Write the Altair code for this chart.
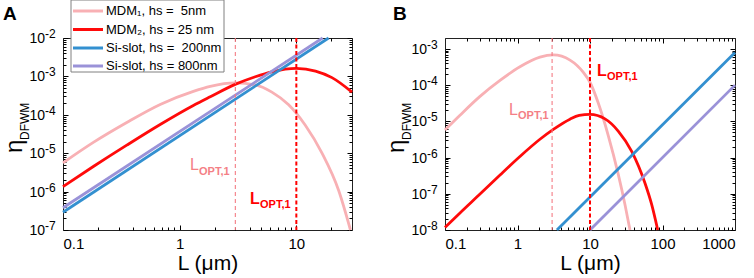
import altair as alt
import pandas as pd

FONT = "Liberation Sans"

# ---------------- series / legend ----------------
SERIES = ["MDM\u2081, hs = \u00a05nm", "MDM\u2082, hs = 25 nm",
          "Si-slot, hs = \u00a0200nm", "Si-slot, hs = 800nm"]
COLORS = ["#F8B0B4", "#FF0A0A", "#3390D0", "#9A92D8"]

# ---------------- panel A data ----------------
A_mdm1_L = [0.1, 0.182, 0.352, 0.681, 1.31, 1.83, 2.99, 4.45, 6.17, 8.59, 11.9, 16.6, 23.1, 29.1]
A_mdm1_eta = [5.6e-6, 1.91e-5, 6.3e-5, 1.86e-4, 4.07e-4, 5.5e-4, 6.76e-4, 6.03e-4, 3.89e-4, 1.82e-4, 5.4e-5, 1.0e-5, 1.05e-6, 1.0e-7]
A_mdm2_L = [0.1, 0.182, 0.352, 0.681, 1.31, 1.83, 2.99, 4.45, 6.17, 10.0, 14.6, 20.2, 30.0]
A_mdm2_eta = [1.35e-6, 4.5e-6, 1.62e-5, 5.6e-5, 1.75e-4, 2.95e-4, 6.2e-4, 9.8e-4, 1.32e-3, 1.62e-3, 1.38e-3, 9.3e-4, 3.9e-4]
A_slot200_L = [0.1, 18.9]
A_slot200_eta = [2.9e-7, 1.0e-2]
A_slot800_L = [0.1, 16.8]
A_slot800_eta = [3.8e-7, 1.0e-2]

# ---------------- panel B data ----------------
B_mdm1_L = [0.1, 0.161, 0.304, 0.574, 1.08, 2.04, 3.12, 5.3, 8.1, 10.0, 13.0, 17.9, 24.5, 30.4, 35.6]
B_mdm1_eta = [5.8e-6, 1.48e-5, 4.9e-5, 1.35e-4, 3.2e-4, 5.9e-4, 6.8e-4, 4.9e-4, 2.24e-4, 1.2e-4, 3.2e-5, 4.0e-6, 3.5e-7, 5.0e-8, 1.0e-8]
B_mdm2_L = [0.1, 0.161, 0.304, 0.574, 1.08, 2.04, 3.12, 5.3, 7.1, 10.0, 16.1, 24.5, 37.6, 57.4, 71.0, 86.0]
B_mdm2_eta = [1.17e-8, 2.95e-8, 9.8e-8, 3.3e-7, 1.07e-6, 3.2e-6, 6.0e-6, 1.15e-5, 1.45e-5, 1.55e-5, 1.17e-5, 5.4e-6, 1.48e-6, 1.95e-7, 5.0e-8, 1.0e-8]
B_slot200_L = [3.5, 1000.0]
B_slot200_eta = [1.0e-8, 8.0e-4]
B_slot800_L = [10.0, 1000.0]
B_slot800_eta = [1.0e-8, 1.0e-4]

# optimum lengths (dashed markers): MDM1, MDM2
L_OPT = [3.0, 10.0]

# ---------------- ticks ----------------
A_x_major = [0.1, 1, 10]
A_x_minor = [0.2, 0.3, 0.4, 0.5, 0.6, 0.7, 0.8, 0.9, 2, 3, 4, 5, 6, 7, 8, 9, 20]
A_y_major = [1e-7, 1e-6, 1e-5, 1e-4, 1e-3, 1e-2]
A_y_sup = ["-7", "-6", "-5", "-4", "-3", "-2"]
A_y_minor = [k * 10.0 ** e for e in range(-7, -2) for k in range(2, 10)]

B_x_major = [0.1, 1, 10, 100, 1000]
B_x_minor = [k * 10.0 ** e for e in range(-1, 3) for k in range(2, 10)]
B_y_major = [1e-8, 1e-7, 1e-6, 1e-5, 1e-4, 1e-3]
B_y_sup = ["-8", "-7", "-6", "-5", "-4", "-3"]
B_y_minor = [k * 10.0 ** e for e in range(-8, -3) for k in range(2, 10)]

# ---------------- layout (pixels, relative to panel A plot origin) ----------------
W_TOTAL, H = 672, 192
XA_RANGE = [0, 289]
XB_RANGE = [382, 672]
PINK_TXT = "#F47F86"
RED_TXT = "#FF0000"


def long_df(parts):
    rows = []
    for name, Ls, etas in parts:
        for i, (l, e) in enumerate(zip(Ls, etas)):
            rows.append({"series": name, "L": l, "eta": e, "i": i})
    return pd.DataFrame(rows)


dfA = long_df([(SERIES[0], A_mdm1_L, A_mdm1_eta), (SERIES[1], A_mdm2_L, A_mdm2_eta),
               (SERIES[2], A_slot200_L, A_slot200_eta), (SERIES[3], A_slot800_L, A_slot800_eta)])
dfB = long_df([(SERIES[0], B_mdm1_L, B_mdm1_eta), (SERIES[1], B_mdm2_L, B_mdm2_eta),
               (SERIES[2], B_slot200_L, B_slot200_eta), (SERIES[3], B_slot800_L, B_slot800_eta)])

one = pd.DataFrame({"k": [0]})
color_scale = alt.Scale(domain=SERIES, range=COLORS)


def tick_layer(df, xs, ys, xvals, yvals, xorient, yorient, yoff, size, frame):
    common = dict(labels=False, tickSize=size, grid=False, title=None,
                  tickColor="black", tickWidth=1, domain=frame,
                  domainColor="#222222", domainWidth=1)
    return alt.Chart(df).mark_point(opacity=0, size=1).encode(
        x=alt.X("L:Q", scale=xs, axis=alt.Axis(orient=xorient, offset=-H, values=xvals, **common)),
        y=alt.Y("eta:Q", scale=ys, axis=alt.Axis(orient=yorient, offset=yoff, values=yvals, **common)),
    )


def text(x, y, s, size, color="black", weight="normal", align="left", angle=0, baseline="alphabetic"):
    kw = dict(align=align, baseline=baseline, fontSize=size, fontWeight=weight, font=FONT, color=color)
    if angle:
        kw["angle"] = angle
    return alt.Chart(one).mark_text(**kw).encode(
        x=alt.value(x), y=alt.value(y), text=alt.value(s))


def panel(df, xs, ys, xmaj, xmin, ymaj, ymin, ysup, x0, left_off, right_off, letter, labels):
    lines = alt.Chart(df).mark_line(strokeWidth=2.8, interpolate="monotone").encode(
        x=alt.X("L:Q", scale=xs, axis=alt.Axis(
            orient="bottom", values=xmaj, format="~g", ticks=False, tickSize=0,
            domain=False, grid=False, labelFontSize=15, labelFont=FONT,
            labelColor="black", labelPadding=6,
            title="L (\u03bcm)", titleFont=FONT, titleFontSize=21, titleFontWeight="normal",
            titleColor="black", titleBaseline="alphabetic", titleY=39)),
        y=alt.Y("eta:Q", scale=ys, axis=None),
        color=alt.Color("series:N", sort=SERIES, scale=color_scale, legend=None),
        order="i:Q",
    )
    ticks = [
        tick_layer(df, xs, ys, xmaj, ymaj, "top", "right", left_off, 5, True),
        tick_layer(df, xs, ys, xmin, ymin, "top", "right", left_off, 3, False),
        tick_layer(df, xs, ys, xmaj, ymaj, "bottom", "left", right_off, 5, True),
        tick_layer(df, xs, ys, xmin, ymin, "bottom", "left", right_off, 3, False),
    ]
    opt = pd.DataFrame({"L": L_OPT})
    r1 = alt.Chart(opt.iloc[[0]]).mark_rule(
        color="#F47C84", strokeWidth=1.1, strokeDash=[4, 3]).encode(
        x=alt.X("L:Q", scale=xs, axis=None))
    r2 = alt.Chart(opt.iloc[[1]]).mark_rule(
        color="#FF0000", strokeWidth=2, strokeDash=[4, 2.5]).encode(
        x=alt.X("L:Q", scale=xs, axis=None))

    ylab = pd.DataFrame({"v": ymaj, "sup": ysup})
    ybase = alt.Chart(ylab).mark_text(align="right", baseline="middle", fontSize=14,
                                      font=FONT, color="black", dy=1).encode(
        x=alt.value(x0 - 18), y=alt.Y("v:Q", scale=ys, axis=None), text=alt.value("10"))
    ysupl = alt.Chart(ylab).mark_text(align="left", baseline="middle", fontSize=12,
                                      font=FONT, color="black", dy=-4).encode(
        x=alt.value(x0 - 18), y=alt.Y("v:Q", scale=ys, axis=None), text="sup:N")

    marks = [lines, *ticks, r1, r2, ybase, ysupl,
             text(x0 - 41, 115, "\u03b7", 24, angle=270),
             text(x0 - 34, 102, "DFWM", 12, angle=270),
             text(x0 + letter[1], -18, letter[0], 19, weight="bold")]
    for (lx, ly, sx, sy, col, wL) in labels:
        marks.append(text(x0 + lx, ly, "L", 16, color=col, weight=wL))
        marks.append(text(x0 + sx, sy, "OPT,1", 11, color=col, weight="bold"))
    return marks


xA = alt.Scale(type="log", domain=[0.1, 30], range=XA_RANGE, nice=False)
yA = alt.Scale(type="log", domain=[1e-7, 1e-2], nice=False)
xB = alt.Scale(type="log", domain=[0.1, 1000], range=XB_RANGE, nice=False)
yB = alt.Scale(type="log", domain=[1e-8, 2e-3], nice=False)

labA = [(127, 132, 136, 137, PINK_TXT, "normal"), (187, 166, 197, 170, RED_TXT, "bold")]
labB = [(64, 77, 73, 81, PINK_TXT, "normal"), (152, 38, 162, 42, RED_TXT, "bold")]

marksA = panel(dfA, xA, yA, A_x_major, A_x_minor, A_y_major, A_y_minor, A_y_sup,
               XA_RANGE[0], -W_TOTAL, -XA_RANGE[1], ("A", -60), labA)
marksB = panel(dfB, xB, yB, B_x_major, B_x_minor, B_y_major, B_y_minor, B_y_sup,
               XB_RANGE[0], -(W_TOTAL - XB_RANGE[0]), -XB_RANGE[1], ("B", -52), labB)

# ---------------- manual legend (panel A) ----------------
LEG_BOX = (8, -38, 161, 34)           # x, y, x2, y2
LEG_ROWS_Y = [-27, -8.5, 10, 28]
legend_marks = [alt.Chart(one).mark_rect(fill="white", stroke="#808080", strokeWidth=1).encode(
    x=alt.value(LEG_BOX[0]), y=alt.value(LEG_BOX[1]),
    x2=alt.value(LEG_BOX[2]), y2=alt.value(LEG_BOX[3]))]
for name, col, ry in zip(SERIES, COLORS, LEG_ROWS_Y):
    legend_marks.append(alt.Chart(one).mark_rule(strokeWidth=3, color=col).encode(
        x=alt.value(10), x2=alt.value(40), y=alt.value(ry)))
    legend_marks.append(text(43, ry, name, 13, baseline="middle"))

chart = alt.layer(*marksA, *marksB, *legend_marks).resolve_scale(
    x="independent", y="independent").resolve_axis(
    x="independent", y="independent").properties(
    width=W_TOTAL, height=H,
    autosize=alt.AutoSizeParams(type="none"),
    padding={"left": 63, "top": 38, "right": 19, "bottom": 48},
    background="white",
).configure_view(stroke=None)

chart.save("out.html", embed_options={"renderer": "svg", "actions": False})
